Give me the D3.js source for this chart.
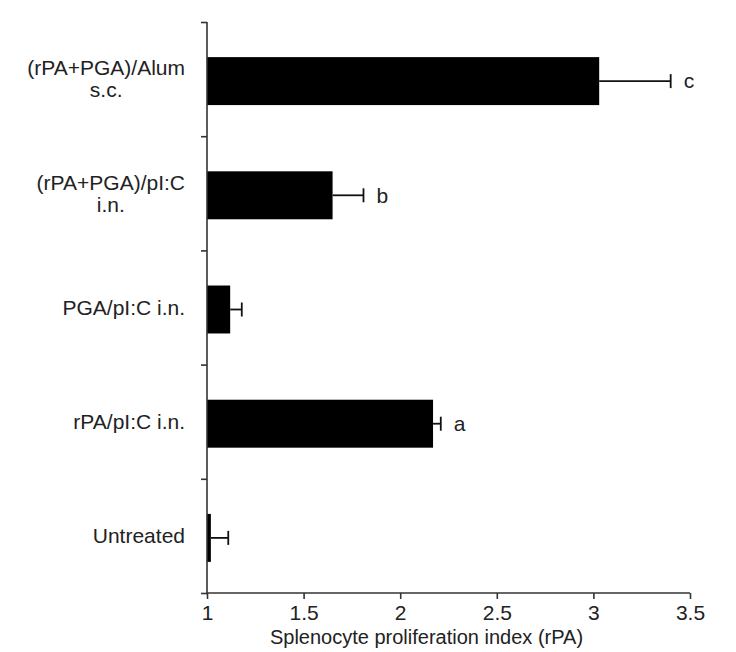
<svg width="736" height="652"></svg>

<script src="https://d3js.org/d3.v7.min.js"></script>
<script>
	// groups top to bottom, with mean, top of error bar and letter
	const groups = [
		["(rPA+PGA)/Alum", "s.c."],
		["(rPA+PGA)/pI:C", "i.n."],
		["PGA/pI:C i.n."],
		["rPA/pI:C i.n."],
		["Untreated"]
	]
	const means = [3.03, 1.65, 1.12, 2.17, 1.02]
	const errTops = [3.40, 1.81, 1.18, 2.21, 1.11]
	const letters = ["c", "b", "", "a", ""]
	const xTicks = [1, 1.5, 2, 2.5, 3, 3.5]

	const font = "Liberation Sans, Arial, sans-serif"
	const axisColor = "#333"
	const textColor = "#222"
	const fs = 21

	const svg = d3.select("svg")
		.attr("font-family", font)
		.style("background", "#fff")

	const x = d3.scaleLinear().domain([1, 3.5]).range([199, 682])
	const idx = d3.range(groups.length)
	const y = d3.scaleBand().domain(idx).range([14, 585]).padding(0)
	const yEdges = d3.scaleLinear().domain([0, groups.length]).range([14, 585])

	const barH = y.bandwidth() * 0.42
	const mid = i => y(i) + y.bandwidth() / 2 + 2

	// bars
	svg.append("g").selectAll("rect")
		.data(idx)
		.join("rect")
			.attr("x", x(1))
			.attr("y", i => mid(i) - barH / 2)
			.attr("width", i => x(means[i]) - x(1))
			.attr("height", barH)
			.attr("fill", "#000")

	// error bars
	const err = svg.append("g")
		.attr("stroke", "#111")
		.attr("stroke-width", 1.8)
	err.selectAll("line.h")
		.data(idx)
		.join("line")
			.attr("class", "h")
			.attr("x1", i => x(means[i]))
			.attr("x2", i => x(errTops[i]))
			.attr("y1", mid)
			.attr("y2", mid)
	err.selectAll("line.cap")
		.data(idx)
		.join("line")
			.attr("class", "cap")
			.attr("x1", i => x(errTops[i]))
			.attr("x2", i => x(errTops[i]))
			.attr("y1", i => mid(i) - 7)
			.attr("y2", i => mid(i) + 7)

	// significance letters
	svg.append("g").selectAll("text")
		.data(idx)
		.join("text")
			.attr("x", i => x(errTops[i]) + 13)
			.attr("y", mid)
			.attr("dy", "0.35em")
			.attr("font-size", fs)
			.attr("fill", textColor)
			.text(i => letters[i])

	// x axis
	const xAxis = svg.append("g")
		.attr("transform", `translate(0,585)`)
		.call(d3.axisBottom(x).tickValues(xTicks).tickSize(6).tickPadding(6)
			.tickFormat(d3.format("")))
	xAxis.select(".domain").attr("stroke", axisColor).attr("stroke-width", 1.6)
		.attr("d", `M${x(1)},0H${x(3.5)}`)
	xAxis.selectAll(".tick line").attr("stroke", axisColor).attr("stroke-width", 1.6)
	xAxis.selectAll(".tick text")
		.attr("font-family", font)
		.attr("font-size", fs)
		.attr("fill", textColor)

	// y axis, ticks between the groups
	const yAxis = svg.append("g")
		.attr("transform", `translate(${x(1)},0)`)
		.call(d3.axisLeft(yEdges).tickValues(d3.range(groups.length + 1)).tickSize(6)
			.tickFormat(""))
	yAxis.select(".domain").attr("stroke", axisColor).attr("stroke-width", 1.6)
		.attr("d", `M0,${yEdges(0)}V${yEdges(groups.length)}`)
	yAxis.selectAll(".tick line").attr("stroke", axisColor).attr("stroke-width", 1.6)

	// category labels: lines centred on each other, block right-aligned
	const labelRight = x(1) - 22
	const lab = svg.append("g").selectAll("text")
		.data(idx)
		.join("text")
			.attr("text-anchor", "middle")
			.attr("font-size", fs)
			.attr("fill", textColor)
	lab.selectAll("tspan")
		.data(i => groups[i].map((t, j) => ({t, j, n: groups[i].length, i})))
		.join("tspan")
			.attr("y", d => mid(d.i) - 2 + (d.j - (d.n - 1) / 2) * 22)
			.attr("dy", "0.35em")
			.text(d => d.t)
	lab.each(function () {
		const spans = d3.select(this).selectAll("tspan")
		const w = d3.max(spans.nodes(), n => n.getComputedTextLength())
		spans.attr("x", labelRight - w / 2)
	})

	// axis title
	svg.append("text")
		.attr("x", (x(1) + x(3.5)) / 2 - 22)
		.attr("y", 636)
		.attr("text-anchor", "middle")
		.attr("font-size", 20)
		.attr("fill", textColor)
		.text("Splenocyte proliferation index (rPA)")
</script>
